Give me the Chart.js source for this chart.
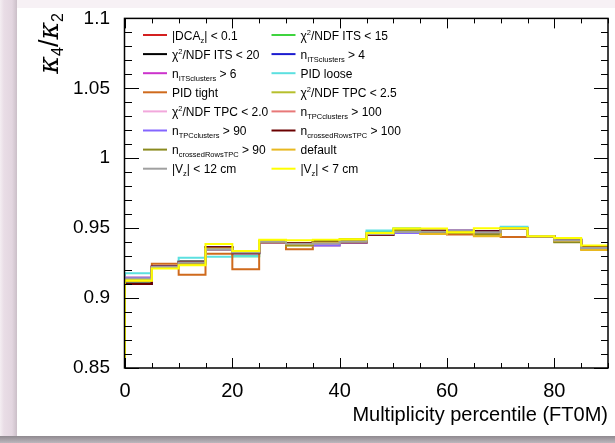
<!DOCTYPE html>
<html><head><meta charset="utf-8">
<script src="https://cdn.jsdelivr.net/npm/chart.js@4.4.0/dist/chart.umd.min.js"></script>
<style>
html,body{margin:0;padding:0;width:615px;height:443px;overflow:hidden;background:#ffffff;}
#left{position:absolute;left:0;top:0;width:17px;height:443px;background:linear-gradient(to right,#f4eef2 0px,#e9dde6 4px,#e3d6e0 12px,#cbbfc8 17px);}
#topband{position:absolute;left:17px;top:0;width:598px;height:8px;background:#f7f1f5;}
#bottom{position:absolute;left:0;top:436px;width:615px;height:7px;background:linear-gradient(#8f898f,#bdb7bd);}
canvas{position:absolute;left:0;top:0;}
</style></head><body>
<div id="left"></div><div id="topband"></div><div id="bottom"></div>
<canvas id="c" width="615" height="443"></canvas>
<script>
// ---- data ----
const binEdges = [0,5,10,15,20,25,30,35,40,45,50,55,60,65,70,75,80,85,90];
const seriesNames = [
  "|DCA_{z}| < 0.1", "#chi^{2}/NDF ITS < 15",
  "#chi^{2}/NDF ITS < 20", "n_{ITSclusters} > 4",
  "n_{ITSclusters} > 6", "PID loose",
  "PID tight", "#chi^{2}/NDF TPC < 2.5",
  "#chi^{2}/NDF TPC < 2.0", "n_{TPCclusters} > 100",
  "n_{TPCclusters} > 90", "n_{crossedRowsTPC} > 100",
  "n_{crossedRowsTPC} > 90", "default",
  "|V_{z}| < 12 cm", "|V_{z}| < 7 cm"
];
const dcaZ      = [0.9101,0.9225,0.9260,0.9364,0.9320,0.9400,0.9394,0.9400,0.9400,0.9452,0.9475,0.9482,0.9478,0.9478,0.9500,0.9442,0.9418,0.9365];
const chi2Its15 = [0.9120,0.9222,0.9262,0.9358,0.9300,0.9405,0.9390,0.9400,0.9415,0.9470,0.9497,0.9470,0.9470,0.9454,0.9500,0.9442,0.9412,0.9358];
const chi2Its20 = [0.9105,0.9220,0.9258,0.9362,0.9322,0.9402,0.9394,0.9406,0.9402,0.9454,0.9476,0.9480,0.9476,0.9476,0.9500,0.9442,0.9417,0.9363];
const itsCl4    = [0.9100,0.9225,0.9260,0.9364,0.9320,0.9400,0.9394,0.9400,0.9400,0.9452,0.9475,0.9482,0.9478,0.9478,0.9500,0.9442,0.9418,0.9365];
const itsCl6    = [0.9140,0.9222,0.9255,0.9350,0.9326,0.9402,0.9388,0.9390,0.9402,0.9458,0.9472,0.9474,0.9484,0.9470,0.9500,0.9442,0.9414,0.9358];
const pidLoose  = [0.9178,0.9225,0.9288,0.9295,0.9300,0.9405,0.9390,0.9395,0.9410,0.9484,0.9490,0.9475,0.9475,0.9470,0.9510,0.9442,0.9420,0.9360];
const pidTight  = [0.9125,0.9246,0.9166,0.9317,0.9206,0.9400,0.9350,0.9385,0.9395,0.9455,0.9470,0.9465,0.9454,0.9460,0.9437,0.9442,0.9405,0.9350];
const chi2Tpc25 = [0.9130,0.9220,0.9250,0.9350,0.9336,0.9408,0.9376,0.9395,0.9423,0.9462,0.9490,0.9470,0.9470,0.9452,0.9500,0.9442,0.9402,0.9352];
const chi2Tpc20 = [0.9147,0.9222,0.9256,0.9350,0.9328,0.9400,0.9388,0.9380,0.9400,0.9458,0.9466,0.9475,0.9484,0.9472,0.9500,0.9442,0.9414,0.9358];
const tpcCl100  = [0.9145,0.9224,0.9255,0.9348,0.9326,0.9402,0.9386,0.9376,0.9398,0.9456,0.9466,0.9476,0.9484,0.9470,0.9500,0.9442,0.9412,0.9356];
const tpcCl90   = [0.9145,0.9224,0.9255,0.9348,0.9326,0.9402,0.9386,0.9376,0.9398,0.9456,0.9466,0.9476,0.9484,0.9470,0.9500,0.9442,0.9412,0.9356];
const crRows100 = [0.9100,0.9225,0.9260,0.9364,0.9320,0.9400,0.9394,0.9400,0.9400,0.9452,0.9475,0.9482,0.9478,0.9478,0.9500,0.9442,0.9418,0.9365];
const crRows90  = [0.9122,0.9218,0.9248,0.9350,0.9330,0.9405,0.9378,0.9398,0.9410,0.9460,0.9484,0.9468,0.9468,0.9456,0.9500,0.9442,0.9400,0.9354];
const defaultV  = [0.9123,0.9215,0.9240,0.9355,0.9330,0.9405,0.9385,0.9395,0.9405,0.9460,0.9475,0.9458,0.9470,0.9442,0.9500,0.9442,0.9410,0.9343];
const vz12      = [0.9140,0.9222,0.9255,0.9350,0.9326,0.9402,0.9388,0.9390,0.9402,0.9458,0.9472,0.9474,0.9484,0.9470,0.9500,0.9442,0.9414,0.9358];
const vz7       = [0.9125,0.9212,0.9234,0.9387,0.9336,0.9418,0.9414,0.9418,0.9420,0.9466,0.9497,0.9497,0.9470,0.9500,0.9500,0.9442,0.9430,0.9376];
const seriesValues = [dcaZ,chi2Its15,chi2Its20,itsCl4,itsCl6,pidLoose,pidTight,chi2Tpc25,chi2Tpc20,tpcCl100,tpcCl90,crRows100,crRows90,defaultV,vz12,vz7];
const yTickValues = [0.85,0.9,0.95,1,1.05,1.1];
const xTickValues = [0,20,40,60,80];
const xTitle = "Multiplicity percentile (FT0M)";
const yTitle = "#kappa_{4}/#kappa_{2}";

// ---- styles ----
const colors = ["#d42020","#3fd43f","#000000","#1c1cd0","#cc33cc","#5ce0e0","#cf6a1c","#b6bf2c",
                "#f2a8dc","#e87878","#8466ff","#6a0000","#8a8a1e","#e8b820","#a0a0a0","#ffff00"];
const FONT = '"Liberation Sans", Arial, Helvetica, sans-serif';
const GREEK = '"DejaVu Serif", serif';
const Y_MIN = 0.85, Y_MAX = 1.1;

function histPoints(vals){
  const pts = [{x: binEdges[0], y: Y_MIN}];
  vals.forEach((v,j)=>pts.push({x: binEdges[j], y: v}));
  pts.push({x: binEdges[binEdges.length-1], y: vals[vals.length-1]});
  return pts;
}

// parse ROOT-like latex into segments
function parseRich(s){
  const segs=[]; let i=0, buf='';
  const flush=()=>{ if(buf){segs.push({t:buf,m:0});buf='';} };
  while(i<s.length){
    if((s[i]==='_'||s[i]==='^') && s[i+1]==='{'){
      flush();
      const end=s.indexOf('}',i);
      segs.push({t:s.slice(i+2,end), m: s[i]==='_'? -1 : 1});
      i=end+1;
    } else if(s.startsWith('#chi',i)){ buf+='\u03C7'; i+=4; }
    else if(s.startsWith('#kappa',i)){ flush(); segs.push({t:'\u03BA',m:0,g:1}); i+=6; }
    else { buf+=s[i]; i++; }
  }
  flush();
  return segs;
}
function segFont(sg,size,subSize){
  return (sg.g?'italic ':'')+(sg.m?subSize:size)+'px '+(sg.g?GREEK:FONT);
}
function richWidth(ctx, segs, size, subSize){
  let w=0;
  segs.forEach(sg=>{ctx.font=segFont(sg,size,subSize); w+=ctx.measureText(sg.t).width;});
  return w;
}
function drawRich(ctx, segs, x, y, size, subSize, subDrop, supRise){
  segs.forEach(sg=>{
    ctx.font=segFont(sg,size,subSize);
    const dy = sg.m===-1? subDrop : (sg.m===1? -supRise : 0);
    ctx.fillText(sg.t, x, y+dy);
    x += ctx.measureText(sg.t).width;
  });
  return x;
}

const rootPlugin = {
  id:'rootStyle',
  afterDraw(chart){
    const {ctx, chartArea:a, scales:{x,y}} = chart;
    ctx.save();
    ctx.strokeStyle='#000'; ctx.lineWidth=1;
    ctx.beginPath();
    for(let k=0;k<=25;k++){
      const v = Y_MIN + k*0.01;
      const py = Math.round(y.getPixelForValue(v))+0.5;
      const L = (k%5===0)?14:7;
      ctx.moveTo(a.left,py); ctx.lineTo(a.left+L,py);
      ctx.moveTo(a.right,py); ctx.lineTo(a.right-L,py);
    }
    for(let v=0; v<=90; v+=5){
      const px = Math.round(x.getPixelForValue(v))+0.5;
      const L = (v%20===0)?10:5;
      ctx.moveTo(px,a.bottom); ctx.lineTo(px,a.bottom-L);
      ctx.moveTo(px,a.top); ctx.lineTo(px,a.top+L);
    }
    ctx.stroke();
    ctx.lineWidth=1.5;
    ctx.strokeRect(a.left-0.5, a.top, a.right-a.left+0.5, a.bottom-a.top);

    // legend
    ctx.fillStyle='#000'; ctx.textBaseline='alphabetic'; ctx.textAlign='left';
    const colX=[143,271.5], rowY0=35, rowH=19.1;
    seriesNames.forEach((name,i)=>{
      const col=i%2, row=Math.floor(i/2);
      const cy=rowY0+row*rowH;
      ctx.strokeStyle=colors[i]; ctx.lineWidth=2;
      ctx.beginPath(); ctx.moveTo(colX[col],cy); ctx.lineTo(colX[col]+24,cy); ctx.stroke();
      ctx.fillStyle='#000';
      drawRich(ctx, parseRich(name), colX[col]+29, cy+4.5, 12, 7.5, 3, 5);
    });

    // x title
    ctx.font='20px '+FONT; ctx.textAlign='right'; ctx.fillStyle='#000';
    ctx.fillText(xTitle, a.right, 421);

    // y title (rotated)
    ctx.textAlign='left';
    const segs=parseRich(yTitle);
    const w=richWidth(ctx,segs,27,16);
    ctx.translate(58,13); ctx.rotate(-Math.PI/2);
    drawRich(ctx, segs, -w, 0, 27, 16, 5, 8);
    ctx.restore();
  }
};

const datasets = seriesValues.map((vals,i)=>({
  label: seriesNames[i],
  data: histPoints(vals),
  borderColor: colors[i],
  backgroundColor: colors[i],
  borderWidth: 2,
  pointRadius: 0,
  stepped: 'before',
  fill: false,
  order: seriesValues.length - i
}));

new Chart(document.getElementById('c'), {
  type:'line',
  data:{datasets},
  options:{
    responsive:false, animation:false,
    layout:{padding:{left:0,right:7,top:15,bottom:0}},
    plugins:{legend:{display:false}, tooltip:{enabled:false}},
    scales:{
      x:{type:'linear', min:0, max:90,
         grid:{display:false}, border:{display:false},
         afterBuildTicks: s => { s.ticks = xTickValues.map(v=>({value:v})); },
         afterFit: s => { s.height = 75; },
         ticks:{color:'#000', font:{size:20, family:FONT}, padding:3, maxRotation:0,
                callback: v => String(v)}},
      y:{type:'linear', min:Y_MIN, max:Y_MAX,
         grid:{display:false}, border:{display:false},
         afterBuildTicks: s => { s.ticks = yTickValues.map(v=>({value:v})); },
         afterFit: s => { s.width = 125; },
         ticks:{color:'#000', font:{size:19, family:FONT}, padding:7,
                callback: v => String(+(+v).toFixed(2))}}
    }
  },
  plugins:[rootPlugin]
});
</script>
</body></html>
